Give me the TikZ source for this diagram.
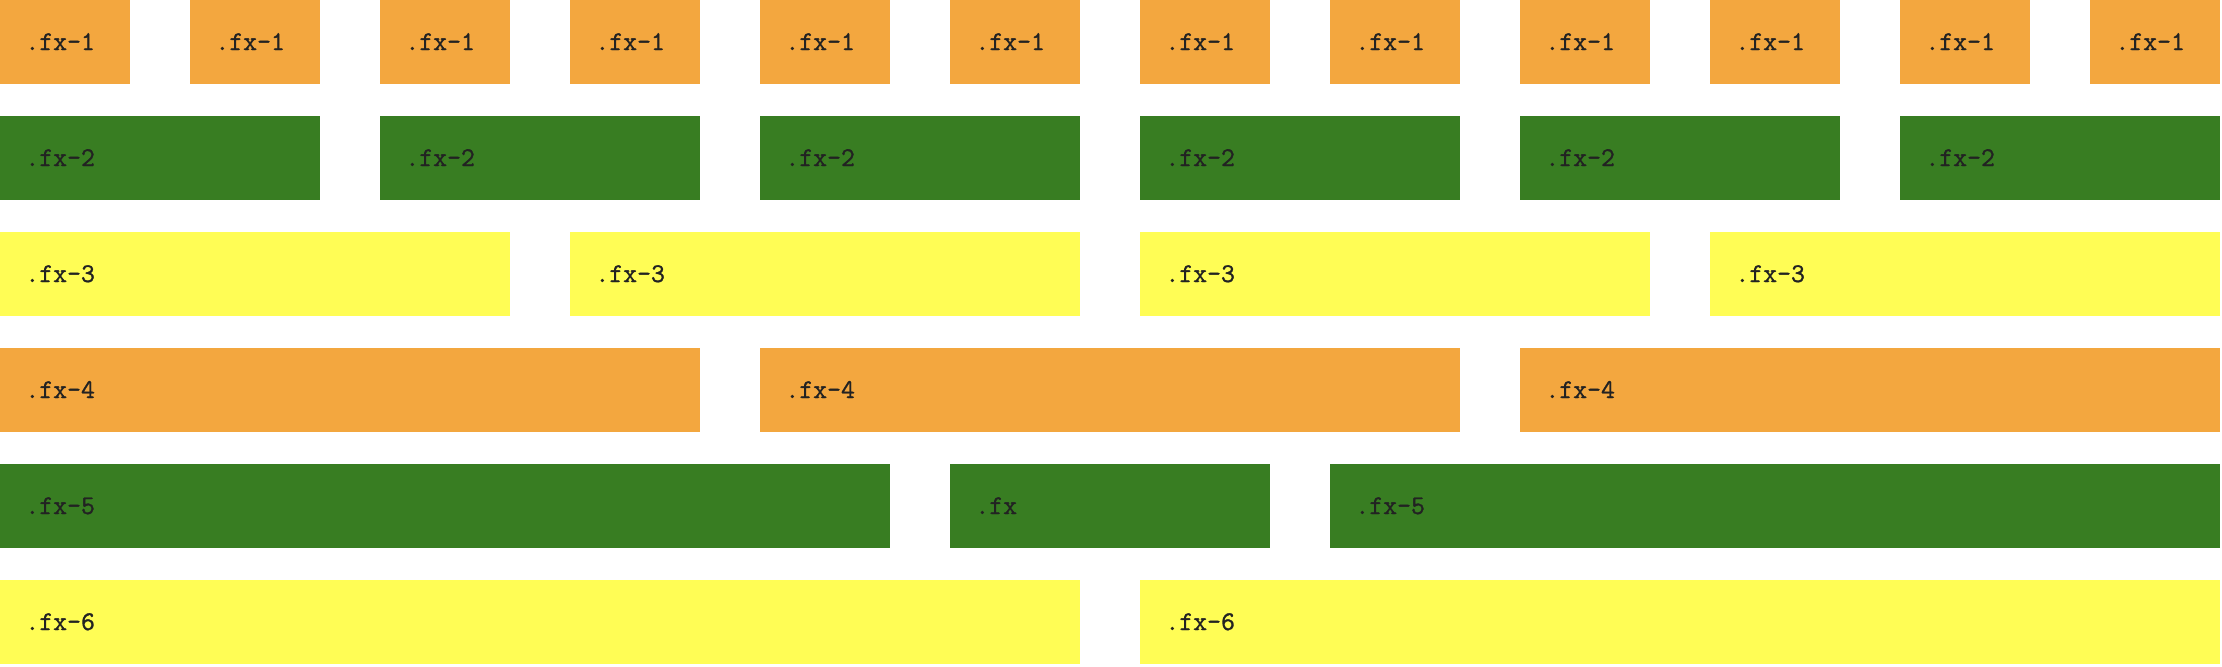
\documentclass[tikz,border=0pt]{standalone}
\usepackage{fontspec}
\newfontfamily\fxfont{Latin Modern Mono}[FakeBold=1.2]
\definecolor{fxorange}{HTML}{F3A73F}
\definecolor{fxgreen}{HTML}{387D22}
\definecolor{fxyellow}{HTML}{FFFD55}
\definecolor{fxtext}{HTML}{222222}
\tikzset{
	fxlabel/.style={anchor=base west,inner sep=0pt,text=fxtext,font=\fxfont\fontsize{13.5pt}{15pt}\selectfont}
}

\begin{document}
\begin{tikzpicture}[x=0.5pt,y=-0.5pt]
	\useasboundingbox (0,0) rectangle (2222,666);
	% rows that repeat one span: row/span/colour/label
	\foreach \r/\n/\c/\t in {0/1/fxorange/.fx-1,1/2/fxgreen/.fx-2,2/3/fxyellow/.fx-3,3/4/fxorange/.fx-4,5/6/fxyellow/.fx-6} {
		\pgfmathtruncatemacro\m{12/\n-1}
		\foreach \i in {0,...,\m} {
			\fill[\c] (190*\n*\i,116*\r) rectangle +(190*\n-60,84);
			\node[fxlabel] (fx\r-\i) at (190*\n*\i+25,116*\r+50) {\t};
		}
	}
	% row 5: start/span/label
	\foreach \s/\n/\t [count=\k] in {0/5/.fx-5,5/2/.fx,7/5/.fx-5} {
		\fill[fxgreen] (190*\s,464) rectangle +(190*\n-60,84);
		\node[fxlabel] (fx4-\k) at (190*\s+25,514) {\t};
	}
\end{tikzpicture}
\end{document}
